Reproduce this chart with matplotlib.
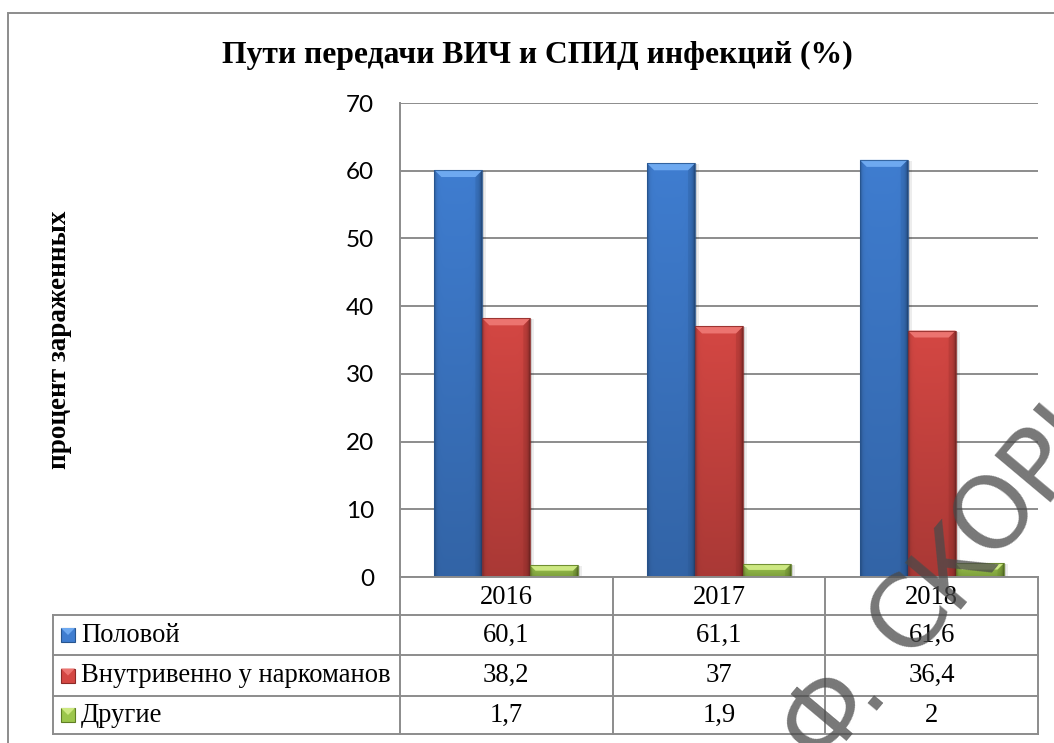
import matplotlib
matplotlib.use('Agg')
import matplotlib.pyplot as plt
import numpy as np
from matplotlib.patches import Polygon, Rectangle
from matplotlib.lines import Line2D
from matplotlib.transforms import blended_transform_factory, offset_copy
import matplotlib.colors as mcolors

# ---------------- data ----------------
years = ['2016', '2017', '2018']
series_names = ['Половой', 'Внутривенно у наркоманов', 'Другие']
sexual = [60.1, 61.1, 61.6]
injecting = [38.2, 37.0, 36.4]
other = [1.7, 1.9, 2.0]
yticks = [0, 10, 20, 30, 40, 50, 60, 70]
title = 'Пути передачи ВИЧ и СПИД инфекций (%)'
ylabel = 'процент зараженных'
watermark_chars = ['И', 'Ф', '.', 'С', 'К', 'О', 'Р', 'И', 'Н', 'Ы']

series = [sexual, injecting, other]
base_cols = ['#3f7dd0', '#d44743', '#9cc64c']
light_cols = ['#6ea9f0', '#ec7470', '#cde882']
dark_cols = ['#27558f', '#8c2a27', '#5f7e24']

W, H = 1054, 743
fig = plt.figure(figsize=(W / 100, H / 100), dpi=100)
fig.patch.set_facecolor('white')

GRAY = '#8c8c8c'
SERIF = ['Liberation Serif', 'DejaVu Serif']
SANS = ['Lato', 'DejaVu Sans']

# outer chart border (right/bottom lie outside the picture)
fig.patches.append(Rectangle((8 / W, 1 - 1200 / H), 2.0, (1200 - 13) / H,
                             transform=fig.transFigure, fill=False,
                             edgecolor=GRAY, lw=1.4))

ax = fig.add_axes([400 / W, 1 - 577 / H, 638 / W, 474 / H])
ax.set_xlim(-0.5, 2.5)
ax.set_ylim(0, 70)
ax.set_yticks(yticks)
ax.set_xticks([])
ax.yaxis.grid(True, color=GRAY, lw=1.4)
ax.set_axisbelow(True)
for s in ['top', 'right']:
    ax.spines[s].set_visible(False)
for s in ['left', 'bottom']:
    ax.spines[s].set_color(GRAY)
    ax.spines[s].set_linewidth(1.4)
ax.tick_params(axis='y', length=0, pad=18.5, labelsize=17.5, labelcolor='black')
for lab in ax.get_yticklabels():
    lab.set_family(SANS)

x = np.arange(len(years))
bw = 48 / 213
offsets = [-bw, 0, bw]

fig.canvas.draw()
px_per_y = ax.get_window_extent().height / 70.0
px_per_x = ax.get_window_extent().width / 3.0


def body_image(base, ny=120, nx=48):
    c = np.array(mcolors.to_rgb(base))
    t = np.linspace(0, 1, ny)[:, None]
    s = np.linspace(0, 1, nx)[None, :]
    vert = 0.80 + 0.20 * t
    e_l = np.exp(-s / 0.035)
    e_r = np.exp(-(1 - s) / 0.045)
    edge = 1 - 0.30 * e_l - 0.40 * e_r
    f = (vert * edge)[:, :, None]
    return np.clip(c[None, None, :] * f, 0, 1)


for i, vals in enumerate(series):
    bars = ax.bar(x + offsets[i], vals, bw, color=base_cols[i],
                  edgecolor='none', zorder=2)
    for p in bars:
        x0, w, h = p.get_x(), p.get_width(), p.get_height()
        # soft shadow
        for k, a in [(2, 0.10), (4, 0.07)]:
            tr = offset_copy(ax.transData, fig=fig, x=k, y=-1, units='dots')
            ax.add_patch(Rectangle((x0, 0), w, h, transform=tr, color='black',
                                   alpha=a, lw=0, zorder=1.8))
        im = ax.imshow(body_image(base_cols[i]), extent=[x0, x0 + w, 0, h],
                       origin='lower', aspect='auto', interpolation='bilinear',
                       zorder=2.1)
        im.set_clip_path(p)
        h_px = h * px_per_y
        dy = min(7.0, 0.45 * h_px) / px_per_y
        dx = min(7.0, 0.45 * h_px) / px_per_x
        ax.add_patch(Polygon([(x0, h), (x0 + w, h), (x0 + w - dx, h - dy),
                              (x0 + dx, h - dy)], closed=True,
                             facecolor=light_cols[i], edgecolor='none',
                             zorder=2.3))
        ax.add_patch(Polygon([(x0 + w, h), (x0 + w - dx, h - dy),
                              (x0 + w - dx, 0), (x0 + w, 0)], closed=True,
                             facecolor=dark_cols[i], alpha=0.25,
                             edgecolor='none', zorder=2.25))
        ax.add_patch(Rectangle((x0, 0), w, h, fill=False,
                               edgecolor=dark_cols[i], lw=0.8, alpha=0.8,
                               zorder=2.4))

ax.set_xlim(-0.5, 2.5)
ax.set_ylim(0, 70)

# ---------------- data table ----------------
tb = blended_transform_factory(ax.transData, ax.transAxes)
row_y = [0.0, -38 / 474, -78 / 474, -119 / 474, -157 / 474]
left_x = (53 - 400) / 638
lkw = dict(color=GRAY, lw=1.4, clip_on=False, zorder=3)
for yy in row_y[1:]:
    ax.add_line(Line2D([left_x, 1.0], [yy, yy], transform=ax.transAxes, **lkw))
for xb in [-0.5, 0.5, 1.5, 2.5]:
    ax.add_line(Line2D([xb, xb], [0, row_y[-1]], transform=tb, **lkw))
ax.add_line(Line2D([left_x, left_x], [row_y[1], row_y[-1]],
                   transform=ax.transAxes, **lkw))

FS_T = 19.2
for j, yr in enumerate(years):
    ax.text(j, (row_y[0] + row_y[1]) / 2 - 0.004, yr, transform=tb,
            ha='center', va='center', fontsize=FS_T, family=SERIF,
            clip_on=False)


def fmt(v):
    return ('%g' % v).replace('.', ',')


mk_w = 14 / 638
mk_h = 14 / 474
for i, (name, vals) in enumerate(zip(series_names, series)):
    yc = (row_y[i + 1] + row_y[i + 2]) / 2
    ax.add_patch(Rectangle(((61 - 400) / 638, yc - mk_h / 2), mk_w, mk_h,
                           transform=ax.transAxes, facecolor=base_cols[i],
                           edgecolor=dark_cols[i], lw=0.8, clip_on=False,
                           zorder=3))
    ax.add_patch(Polygon([((61 - 400) / 638, yc + mk_h / 2),
                          ((75 - 400) / 638, yc + mk_h / 2),
                          ((68 - 400) / 638, yc)], closed=True,
                         transform=ax.transAxes, facecolor=light_cols[i],
                         edgecolor='none', clip_on=False, zorder=3.1))
    ax.text((81 - 400) / 638, yc, name, transform=ax.transAxes, ha='left',
            va='center', fontsize=FS_T, family=SERIF, clip_on=False)
    for j, v in enumerate(vals):
        ax.text(j, yc, fmt(v), transform=tb, ha='center', va='center',
                fontsize=FS_T, family=SERIF, clip_on=False)

# ---------------- titles ----------------
fig.text(537 / W, 1 - 63 / H, title, ha='center', va='baseline',
         fontsize=22.8, fontweight='bold', family=SERIF)
fig.text(60 / W, 1 - 340 / H, ylabel, rotation=90, ha='center', va='center',
         fontsize=19.5, fontweight='bold', family=SERIF)

# ---------------- watermark (rotated, letter by letter) ----------------
WM_FS = 72
ang = np.deg2rad(50)
along = [-160, -44, 0, 85, 152, 219, 286, 353, 420, 487]
bx, by = 876, 699   # baseline point of the dot, px from top-left
for ch, s in zip(watermark_chars, along):
    px = bx + s * np.cos(ang)
    py = by - s * np.sin(ang)
    fig.text(px / W, 1 - py / H, ch, rotation=50, rotation_mode='anchor',
             ha='center', va='baseline', fontsize=WM_FS, family='DejaVu Sans',
             color='#4a4a4a', alpha=0.75, zorder=10)

fig.savefig('out.png', dpi=100, facecolor='white')
